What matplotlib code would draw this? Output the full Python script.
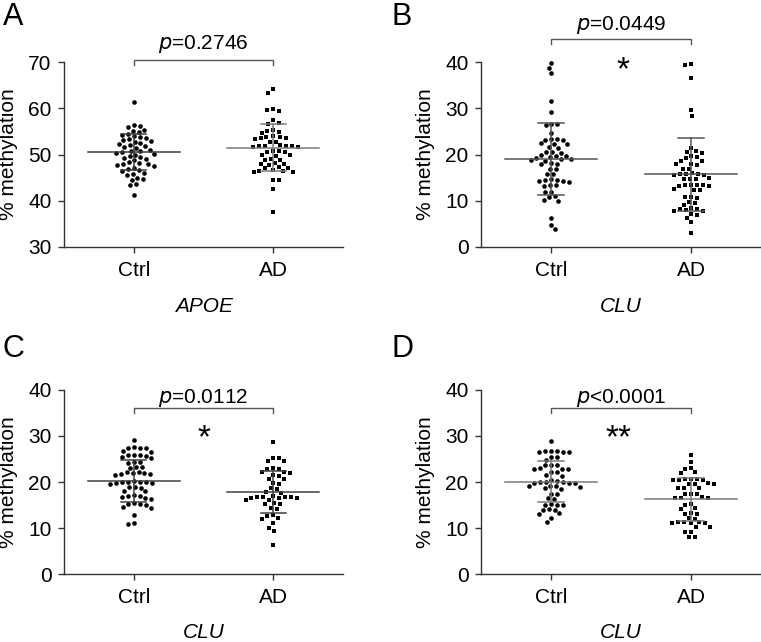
import numpy as np
import matplotlib
matplotlib.use("Agg")
import matplotlib.pyplot as plt

plt.rcParams['font.family'] = ['Liberation Sans', 'DejaVu Sans']

groups = ["Ctrl", "AD"]
panel_letters = ["A", "B", "C", "D"]
genes = ["APOE", "CLU", "CLU", "CLU"]
p_texts = ["=0.2746", "=0.0449", "=0.0112", "<0.0001"]
stars = ["", "*", "*", "**"]
ylims = [(30, 70), (0, 40), (0, 40), (0, 40)]

A_ctrl = [61.3, 56.3, 56.1, 55.9, 55.3, 55.1, 54.9, 54.5, 54.3, 53.9, 53.7, 53.5, 53.3, 53.1,
          52.9, 52.7, 52.4, 52.2, 52.0, 51.8, 51.6, 51.5, 51.0, 50.8, 50.7, 50.5, 50.3, 50.2,
          50.0, 49.6, 49.4, 49.2, 49.0, 48.8, 48.3, 48.2, 48.0, 47.9, 47.8, 47.6, 47.0, 46.8,
          46.6, 46.5, 46.0, 45.8, 45.6, 45.0, 44.8, 44.5, 43.6, 43.3, 41.2]
A_ad = [64.1, 63.4, 59.8, 59.6, 59.4, 57.4, 56.9, 56.7, 55.2, 55.0, 54.9, 54.7, 53.9, 53.8,
        53.7, 53.6, 53.5, 53.4, 52.8, 52.6, 52.0, 51.9, 51.9, 51.8, 51.8, 51.7, 51.7, 50.8,
        50.7, 50.6, 50.5, 49.9, 49.8, 49.7, 49.0, 48.9, 48.8, 48.1, 48.0, 47.9, 47.8, 47.2,
        47.1, 47.0, 46.6, 46.5, 46.4, 46.3, 46.2, 44.5, 44.4, 42.6, 37.6]
B_ctrl = [39.8, 38.7, 37.6, 31.6, 29.2, 26.6, 26.5, 26.3, 24.7, 23.4, 23.3, 23.2, 23.1, 22.4,
          22.3, 22.2, 21.6, 21.5, 20.6, 20.5, 20.4, 19.8, 19.7, 19.6, 19.5, 19.2, 19.1, 19.0,
          18.9, 18.7, 18.1, 18.0, 17.9, 16.9, 16.8, 15.8, 15.7, 14.6, 14.5, 14.4, 14.3, 14.2,
          14.1, 13.4, 13.3, 13.2, 12.0, 11.9, 11.0, 10.9, 10.2, 10.0, 6.2, 4.8, 3.9]
B_ad = [39.6, 39.4, 36.5, 29.6, 28.4, 21.3, 20.7, 20.5, 20.3, 19.6, 19.4, 19.3, 18.6, 18.5,
        18.0, 17.9, 17.8, 16.9, 16.8, 15.9, 15.8, 15.8, 15.7, 15.6, 15.5, 14.9, 14.8, 14.7,
        14.6, 13.5, 13.4, 13.3, 13.3, 13.2, 13.1, 12.5, 12.4, 12.3, 10.9, 10.8, 10.7, 9.8,
        9.6, 9.1, 8.4, 8.3, 8.2, 7.9, 7.8, 7.7, 7.1, 7.0, 6.2, 5.3, 3.1]
C_ctrl = [29.1, 27.6, 27.5, 27.4, 27.3, 26.7, 26.6, 25.9, 25.8, 25.8, 25.7, 25.4, 25.3, 24.4,
          24.3, 24.2, 23.3, 23.2, 23.1, 22.2, 22.1, 22.0, 21.9, 21.8, 21.7, 21.6, 20.2, 20.1,
          20.0, 20.0, 19.9, 19.8, 19.7, 19.6, 19.0, 18.9, 18.8, 18.1, 18.0, 17.1, 17.0, 16.9,
          16.8, 16.5, 16.4, 15.4, 15.3, 15.2, 15.1, 14.5, 14.4, 12.8, 11.0, 10.9]
C_ad = [28.8, 25.3, 25.2, 24.6, 24.5, 23.0, 22.9, 22.8, 22.2, 22.1, 22.0, 21.5, 21.4, 20.7,
        20.6, 19.7, 19.6, 18.6, 18.5, 17.8, 17.7, 16.9, 16.8, 16.8, 16.7, 16.7, 16.6, 16.6,
        16.5, 16.1, 16.0, 15.4, 15.3, 15.2, 14.3, 14.2, 12.8, 12.7, 12.1, 12.0, 11.0, 10.1,
        9.3, 6.3]
D_ctrl = [28.9, 26.8, 26.7, 26.7, 26.6, 26.6, 26.5, 25.5, 25.4, 24.8, 23.8, 23.7, 23.6, 23.0,
          22.9, 22.9, 22.8, 22.2, 22.1, 21.5, 21.4, 20.4, 20.3, 20.0, 19.9, 19.9, 19.8, 19.8,
          19.7, 19.2, 19.1, 19.1, 19.0, 18.6, 18.5, 17.5, 17.4, 16.5, 16.4, 15.2, 15.1, 15.1,
          15.0, 14.1, 14.0, 14.0, 13.2, 13.1, 12.1, 11.2]
D_ad = [25.9, 24.3, 23.0, 22.9, 22.1, 22.0, 20.7, 20.6, 20.6, 20.5, 20.5, 20.4, 19.7, 19.6,
        19.6, 19.5, 18.8, 18.7, 18.6, 17.5, 17.4, 17.4, 16.7, 16.6, 16.6, 16.5, 15.2, 15.1,
        14.3, 14.2, 13.2, 13.1, 13.1, 12.1, 12.0, 11.3, 11.2, 11.2, 11.1, 11.1, 11.0, 10.3,
        10.2, 9.2, 9.1, 8.1, 8.0]

means = [(50.6, 51.5), (19.0, 15.7), (20.2, 17.8), (20.1, 16.2)]
sds = [(3.85, 5.0), (7.8, 7.9), (4.6, 4.5), (4.4, 4.7)]
line_colors = [("#3c3c3c", "#7a7a7a"), ("#555555", "#555555"), ("#404040", "#404040"),
               ("#7a7a7a", "#7a7a7a")]

data = [(A_ctrl, A_ad), (B_ctrl, B_ad), (C_ctrl, C_ad), (D_ctrl, D_ad)]

W, H = 761, 642
fig = plt.figure(figsize=(W / 100, H / 100), dpi=100)

# axes boxes in pixels: left, top, right, bottom
boxes = [(64, 62, 343, 247), (481, 62, 761, 247), (64, 390, 343, 574), (481, 390, 761, 574)]


def swarm(vals, ppu_y, ppu_x, d=5.6):
    vals = np.asarray(vals, dtype=float)
    order = np.argsort(-vals)
    placed = []
    xs = np.zeros(len(vals))
    cands = np.arange(0, 60.01, 0.5)
    for k, i in enumerate(order):
        y = vals[i] * ppu_y
        sign = 1 if k % 2 == 0 else -1
        chosen = 0.0
        for c in cands:
            found = False
            for cc in ([c] if c == 0 else [sign * c, -sign * c]):
                if all((cc - px) ** 2 + (y - py) ** 2 >= d * d for px, py in placed):
                    chosen = cc
                    found = True
                    break
            if found:
                break
        placed.append((chosen, y))
        xs[i] = chosen / ppu_x
    return xs


for p in range(4):
    l, t, r, b = boxes[p]
    ax = fig.add_axes([l / W, 1 - b / H, (r - l) / W, (b - t) / H])
    y0, y1 = ylims[p]
    ax.set_xlim(-0.5, 1.5)
    ax.set_ylim(y0, y1)
    ppu_x = (r - l) / 2.0
    ppu_y = (b - t) / (y1 - y0)

    for g in range(2):
        vals = data[p][g]
        xo = swarm(vals, ppu_y, ppu_x)
        ax.scatter(g + xo, vals, s=11 if g == 0 else 10, marker="o" if g == 0 else "s",
                   color="black", linewidths=0, zorder=3, clip_on=False)
        m, s = means[p][g], sds[p][g]
        lc = line_colors[p][g]
        ax.plot([g - 0.33, g + 0.33], [m, m], color=lc, lw=1.1, zorder=4)
        ax.plot([g, g], [m - s, m + s], color=lc, lw=1.1, zorder=4)
        ax.plot([g - 0.09, g + 0.09], [m + s, m + s], color=lc, lw=1.1, zorder=4)
        ax.plot([g - 0.09, g + 0.09], [m - s, m - s], color=lc, lw=1.1, zorder=4)

    ax.set_xticks([0, 1])
    ax.set_xticklabels(groups)
    ax.set_yticks(np.arange(y0, y1 + 1, 10))
    for sp in ["top", "right"]:
        ax.spines[sp].set_visible(False)
    for sp in ["left", "bottom"]:
        ax.spines[sp].set_color("#333333")
        ax.spines[sp].set_linewidth(1.0)
    ax.tick_params(axis="both", direction="out", length=4, width=1.0, color="#333333",
                   labelsize=15)
    ax.tick_params(axis="y", pad=5)
    ax.tick_params(axis="x", pad=6)
    ax.set_ylabel("% methylation", fontsize=15)
    ax.yaxis.set_label_coords(-0.165, 0.5)

    # gene label
    ax.text(0.5, -(306 - 247) / 185.0 if p < 2 else -(632 - 574) / 184.0, genes[p],
            transform=ax.transAxes, ha="center", va="center", fontsize=15, style="italic")

    def py2d(ypx):
        return y1 - (ypx - t) / ppu_y

    if p < 2:
        br_y = [60, 39][p]
        txt_base = [49, 30][p]
    else:
        br_y = t + 18
        txt_base = t + 13
    ax.plot([0, 0, 1, 1], [py2d(br_y + 5), py2d(br_y), py2d(br_y), py2d(br_y + 5)],
            color="#555555", lw=1.0, clip_on=False)
    ax.text(0.5, py2d(txt_base), r"$\it{p}$" + p_texts[p], ha="center", va="baseline",
            fontsize=15, clip_on=False)
    if stars[p]:
        sx = [0, 0.514, 0.504, 0.479][p]
        sy_px = [0, 60, 428, 428][p]
        ax.text(sx, py2d(sy_px + 19), stars[p], ha="center", va="baseline",
                fontsize=24, clip_on=False)

    # panel letters
    lx = 3 if p % 2 == 0 else 391
    ly = [2, 2, 334, 334][p]
    fig.text(lx / W, 1 - ly / H, panel_letters[p], ha="left", va="top", fontsize=22)

fig.savefig("out.png", dpi=100)
